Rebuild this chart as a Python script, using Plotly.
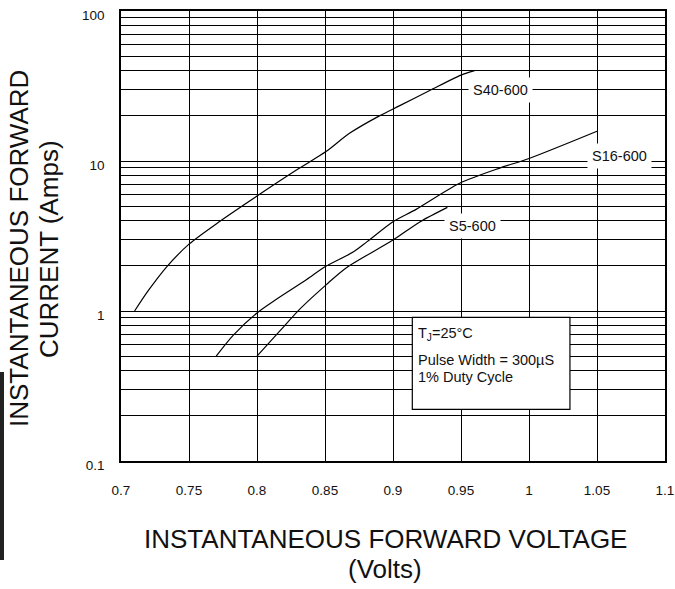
import math
import plotly.graph_objects as go

# ---- data ----
s40_v = [0.71, 0.7199, 0.7336, 0.75, 0.773, 0.80, 0.829, 0.851, 0.868, 0.890, 0.905, 0.927, 0.95, 0.96]
s40_i = [1.0, 1.36, 1.97, 2.79, 3.98, 5.84, 8.7, 11.6, 15.3, 20.0, 23.4, 29.5, 37.4, 40.0]

s16_v = [0.77, 0.7826, 0.80, 0.8145, 0.8365, 0.85, 0.871, 0.881, 0.90, 0.917, 0.949, 0.979, 1.0, 1.05]
s16_i = [0.5, 0.69, 0.97, 1.2, 1.62, 1.97, 2.48, 2.9, 3.94, 4.76, 7.1, 9.0, 10.4, 15.8]

s5_v = [0.80, 0.817, 0.832, 0.851, 0.866, 0.90, 0.92, 0.94]
s5_i = [0.5, 0.74, 1.04, 1.5, 1.95, 2.97, 3.94, 4.91]

x_ticks = [0.7, 0.75, 0.8, 0.85, 0.9, 0.95, 1.0, 1.05, 1.1]
x_tick_text = ["0.7", "0.75", "0.8", "0.85", "0.9", "0.95", "1", "1.05", "1.1"]
y_decades = [0.1, 1, 10, 100]
y_decade_text = ["0.1", "1", "10", "100"]

series_names = ["S40-600", "S16-600", "S5-600"]
label_pos_v = [0.9794, 1.0669, 0.9585]
label_pos_i = [29.7, 10.8, 3.69]

box_v = [0.9142, 1.0301]
box_i = [0.221, 0.908]
box_text = ["T<sub>J</sub>=25°C", "Pulse Width = 300µS", "1% Duty Cycle"]
box_text_i = [0.708, 0.471, 0.361]

FONT = "Liberation Sans, Arial, sans-serif"
INK = "#111111"

# y gridlines at every 1..9 x 10^k
y_grid = []
for k in range(-1, 2):
    for m in range(1, 10):
        y_grid.append(round(m * 10 ** k, 6))
y_grid.append(100)
y_grid_text = [y_decade_text[y_decades.index(v)] if v in y_decades else "" for v in y_grid]

fig = go.Figure()
for v, i in [(s40_v, s40_i), (s16_v, s16_i), (s5_v, s5_i)]:
    fig.add_trace(go.Scatter(x=v, y=i, mode="lines",
                             line=dict(color="#000000", width=1.2, shape="spline", smoothing=0.8),
                             showlegend=False, hoverinfo="skip"))

# condition box (shapes take data values on log axes)
fig.add_shape(type="rect", xref="x", yref="y",
              x0=box_v[0], x1=box_v[1], y0=box_i[0], y1=box_i[1],
              line=dict(color="#000000", width=1.2), fillcolor="white", layer="above")

annotations = []
for name, v, i in zip(series_names, label_pos_v, label_pos_i):
    annotations.append(dict(x=v, y=math.log10(i), xref="x", yref="y", text=name,
                            showarrow=False, font=dict(family=FONT, size=14.5, color=INK),
                            bgcolor="white", borderpad=4, xanchor="center", yanchor="middle"))

for txt, i in zip(box_text, box_text_i):
    annotations.append(dict(x=0.9178, y=math.log10(i), xref="x", yref="y", text=txt, showarrow=False,
                            font=dict(family=FONT, size=14.5, color=INK),
                            xanchor="left", yanchor="middle", borderpad=0))

# axis titles
annotations.append(dict(x=(385 - 121) / 544, y=(461 - 539) / 450, xref="paper", yref="paper",
                        text="INSTANTANEOUS FORWARD VOLTAGE", showarrow=False,
                        font=dict(family=FONT, size=26, color=INK), xanchor="center", yanchor="middle"))
annotations.append(dict(x=(385 - 121) / 544, y=(461 - 569) / 450, xref="paper", yref="paper",
                        text="(Volts)", showarrow=False,
                        font=dict(family=FONT, size=26, color=INK), xanchor="center", yanchor="middle"))
annotations.append(dict(x=(19 - 121) / 544, y=(461 - 249) / 450, xref="paper", yref="paper",
                        text="INSTANTANEOUS FORWARD", showarrow=False, textangle=-90,
                        font=dict(family=FONT, size=26, color=INK), xanchor="center", yanchor="middle"))
annotations.append(dict(x=(49 - 121) / 544, y=(461 - 249) / 450, xref="paper", yref="paper",
                        text="CURRENT (Amps)", showarrow=False, textangle=-90,
                        font=dict(family=FONT, size=26, color=INK), xanchor="center", yanchor="middle"))

# black side bar
fig.add_shape(type="rect", xref="paper", yref="paper",
              x0=(0 - 121) / 544, x1=(4 - 121) / 544,
              y0=(461 - 560) / 450, y1=(461 - 372) / 450,
              line=dict(width=0), fillcolor="#222222")

fig.update_layout(
    width=675, height=589,
    margin=dict(l=121, r=10, t=11, b=128, autoexpand=False),
    paper_bgcolor="white", plot_bgcolor="white",
    annotations=annotations,
    xaxis=dict(range=[0.7, 1.1], tickvals=x_ticks, ticktext=x_tick_text,
               showgrid=True, gridcolor="#000000", gridwidth=1, automargin=False,
               showline=True, mirror=True, linecolor="#000000", linewidth=1.5,
               ticks="", ticklabelstandoff=16, zeroline=False, ticklabeloverflow="allow",
               tickfont=dict(family=FONT, size=13.5, color=INK)),
    yaxis=dict(type="log", range=[-1, 2], tickvals=y_grid, ticktext=y_grid_text,
               showgrid=True, gridcolor="#000000", gridwidth=1, automargin=False,
               showline=True, mirror=True, linecolor="#000000", linewidth=1.5,
               ticks="", ticklabelstandoff=12, ticklabelshift=4, zeroline=False,
               ticklabeloverflow="allow",
               tickfont=dict(family=FONT, size=13.5, color=INK)),
)

fig.write_html("out.html", config={"displayModeBar": False},
               post_script="document.body.style.margin='0px';document.body.style.overflow='hidden';")
